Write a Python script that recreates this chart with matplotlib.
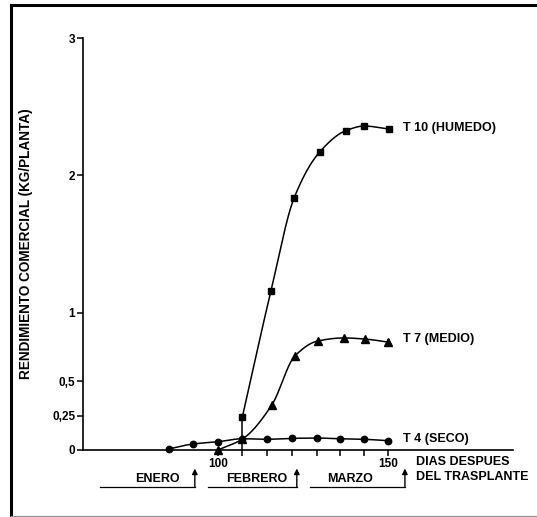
import numpy as np
import matplotlib
matplotlib.use('Agg')
import matplotlib.pyplot as plt
from matplotlib.lines import Line2D

plt.rcParams['font.family'] = ['Liberation Sans', 'DejaVu Sans']
plt.rcParams['font.weight'] = 'bold'

# T 4 (seco)
t4_days = [85.5, 92.7, 100, 107.2, 114.3, 121.8, 129.2, 135.9, 142.9, 150]
t4_yield = [0.007, 0.044, 0.06, 0.082, 0.078, 0.085, 0.087, 0.082, 0.078, 0.068]

# T 7 (medio)
t7_days = [100, 107.2, 115.9, 122.6, 129.4, 137.0, 143.2, 150]
t7_yield = [0.0, 0.08, 0.33, 0.684, 0.794, 0.816, 0.808, 0.786]

# T 10 (humedo)
t10_days = [107.2, 115.6, 122.4, 130.0, 137.6, 143.0, 150.3]
t10_yield = [0.243, 1.16, 1.835, 2.172, 2.325, 2.359, 2.337]

ytick_vals = [0, 0.25, 0.5, 1, 2, 3]
ytick_labels = ['0', '0,25', '0,5', '1', '2', '3']
xtick_vals = [100, 107.2, 114.3, 121.8, 129.2, 135.9, 142.9, 150]
xtick_labels = ['100', '', '', '', '', '', '', '150']

# months under the axis: name, start day, end day (arrow)
month_names = ['ENERO', 'FEBRERO', 'MARZO']
month_start = [65.3, 97.0, 127.0]
month_end = [93.2, 123.2, 155.0]
month_text_x = [82.2, 111.4, 139.0]


def pchip(x, y, n=200):
    # monotone cubic hermite curve through the points
    x = np.asarray(x, float)
    y = np.asarray(y, float)
    h = np.diff(x)
    d = np.diff(y) / h
    m = np.zeros_like(y)
    for k in range(1, len(x) - 1):
        if d[k - 1] * d[k] > 0:
            w1 = 2 * h[k] + h[k - 1]
            w2 = h[k] + 2 * h[k - 1]
            m[k] = (w1 + w2) / (w1 / d[k - 1] + w2 / d[k])
    m[0] = d[0]
    m[-1] = d[-1]
    xs = np.linspace(x[0], x[-1], n)
    idx = np.clip(np.searchsorted(x, xs) - 1, 0, len(h) - 1)
    t = (xs - x[idx]) / h[idx]
    h00 = 2 * t**3 - 3 * t**2 + 1
    h10 = t**3 - 2 * t**2 + t
    h01 = -2 * t**3 + 3 * t**2
    h11 = t**3 - t**2
    ys = h00 * y[idx] + h10 * h[idx] * m[idx] + h01 * y[idx + 1] + h11 * h[idx] * m[idx + 1]
    return xs, ys


fig = plt.figure(figsize=(5.37, 5.17), dpi=100)
ax = fig.add_axes([83 / 537, 1 - 450 / 517, 430 / 537, 412 / 517])

lw = 1.1
for days, vals, mk, ms in [(t4_days, t4_yield, 'o', 4.6),
                           (t7_days, t7_yield, '^', 5.2),
                           (t10_days, t10_yield, 's', 4.4)]:
    xs, ys = pchip(days, vals)
    ax.plot(xs, ys, '-', color='black', lw=lw, clip_on=False)
    ax.plot(days, vals, mk, color='black', ms=ms, clip_on=False, zorder=3)

# T 10 rises straight up from the axis
ax.vlines(t10_days[0], 0, t10_yield[0], color='black', lw=lw)

fs = 9
ax.annotate('T 10 (HUMEDO)', (t10_days[-1], t10_yield[-1]), xytext=(10, 1),
            textcoords='offset points', va='center', fontsize=fs, fontweight='bold')
ax.annotate('T 7 (MEDIO)', (t7_days[-1], t7_yield[-1]), xytext=(11, 2),
            textcoords='offset points', va='center', fontsize=fs, fontweight='bold')
ax.annotate('T 4 (SECO)', (t4_days[-1], t4_yield[-1]), xytext=(11, 1),
            textcoords='offset points', va='center', fontsize=fs, fontweight='bold')

ax.set_xlim(60.3, 186.8)
ax.set_ylim(0, 3)
for s in ['top', 'right']:
    ax.spines[s].set_visible(False)
for s in ['left', 'bottom']:
    ax.spines[s].set_linewidth(1.2)

ax.set_yticks(ytick_vals)
ax.set_yticklabels(ytick_labels, fontsize=8.5, fontweight='bold')
ax.set_xticks(xtick_vals)
ax.set_xticklabels(xtick_labels, fontsize=8.5, fontweight='bold')
ax.tick_params(axis='both', length=4, width=1.1, pad=1.5, direction='out')

ax.set_ylabel('RENDIMIENTO COMERCIAL (KG/PLANTA)', fontsize=9.8, fontweight='bold')
ax.yaxis.set_label_coords(-0.116, 0.5)

# month bands under the axis
tr = ax.get_xaxis_transform()
for name, x0, x1, xt in zip(month_names, month_start, month_end, month_text_x):
    ax.plot([x0, x1], [-0.089, -0.089], color='black', lw=0.9, transform=tr, clip_on=False)
    ax.annotate('', xy=(x1, -0.045), xytext=(x1, -0.090), xycoords=tr, textcoords=tr,
                arrowprops=dict(arrowstyle='-|>', color='black', lw=1.0,
                                mutation_scale=8, shrinkA=0, shrinkB=0))
    ax.text(xt, -0.071, name, transform=tr, ha='center', va='center',
            fontsize=fs, fontweight='bold')

ax.text(158.2, -0.028, 'DIAS DESPUES', transform=tr, ha='left', va='center',
        fontsize=fs, fontweight='bold')
ax.text(158.2, -0.065, 'DEL TRASPLANTE', transform=tr, ha='left', va='center',
        fontsize=fs, fontweight='bold')

# page frame
fig.add_artist(Line2D([11 / 537, 11 / 537], [1 / 517, 1 - 5 / 517], color='black', lw=2.2))
fig.add_artist(Line2D([11 / 537, 1.0], [1 - 5 / 517, 1 - 5 / 517], color='black', lw=2.2))
fig.add_artist(Line2D([11 / 537, 1.0], [1 / 517, 1 / 517], color='#999999', lw=1.0))

fig.savefig('out.png', dpi=100)
